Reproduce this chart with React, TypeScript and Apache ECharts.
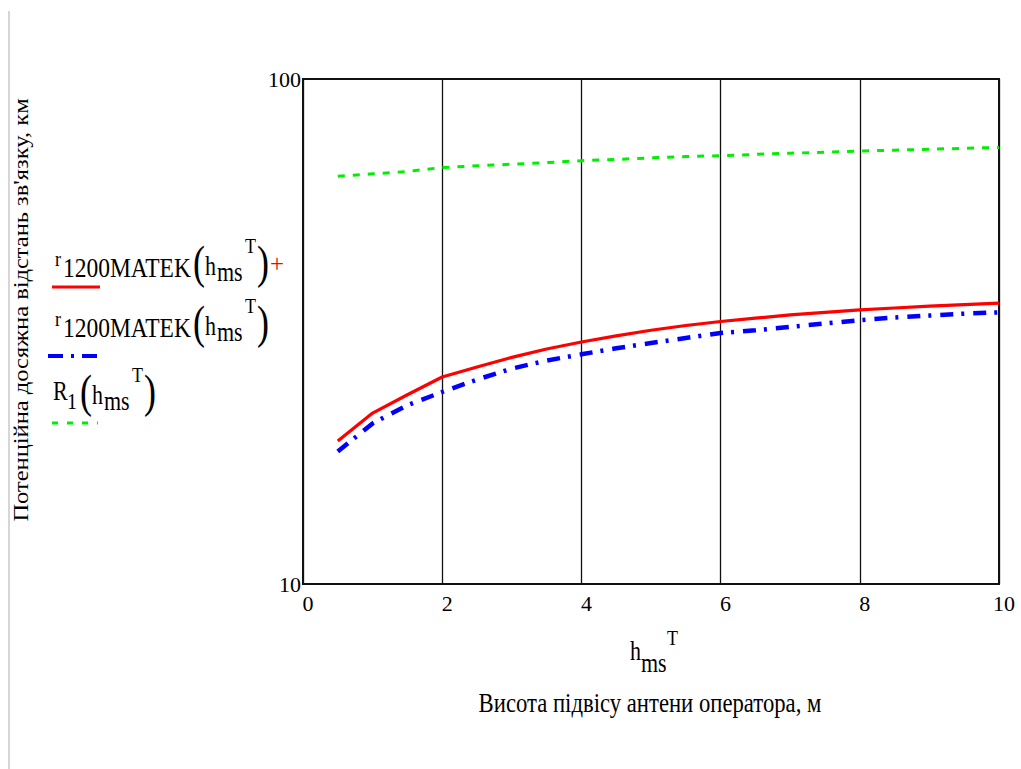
import React, { useEffect, useRef } from "react";
import * as echarts from "echarts";

const heights = [0.5, 1, 1.5, 2, 2.5, 3, 3.5, 4, 4.5, 5, 5.5, 6, 6.5, 7, 7.5, 8, 8.5, 9, 9.5, 10];
const rMatekPlus = [19.2, 21.8, 23.7, 25.7, 26.9, 28.1, 29.2, 30.15, 31.0, 31.8, 32.5, 33.1, 33.6, 34.1, 34.5, 34.9, 35.2, 35.5, 35.75, 36.0];
const rMatek = [18.3, 20.8, 22.6, 24.0, 25.4, 26.7, 27.7, 28.5, 29.3, 30.0, 30.7, 31.4, 31.8, 32.3, 32.8, 33.3, 33.7, 34.0, 34.3, 34.5];
const r1 = [64.2, 64.9, 65.6, 66.8, 67.3, 67.8, 68.3, 68.9, 69.3, 69.8, 70.2, 70.5, 70.9, 71.3, 71.6, 72.0, 72.3, 72.6, 72.9, 73.2];
const xTicks = [0, 2, 4, 6, 8, 10];
const yTicks = [10, 100];

const yTitle = "Потенційна досяжна відстань зв'язку, км";
const xTitle = "Висота підвісу антени оператора, м";

const FONT = "'Liberation Serif', 'Times New Roman', serif";

function txt(text: string, x: number, y: number, size: number, fill = "#000", extra: any = {}) {
  return {
    type: "text",
    x,
    y,
    scaleY: extra.scaleY ?? 1.2,
    scaleX: extra.scaleX ?? 1,
    rotation: extra.rotation ?? 0,
    style: {
      text,
      x: 0,
      y: 0,
      fill,
      font: `${size}px ${FONT}`,
      fontSize: size,
      fontFamily: FONT,
      align: extra.align ?? "left",
      verticalAlign: "middle",
      textAlign: extra.align ?? "left",
      textVerticalAlign: "middle",
    },
    silent: true,
  };
}

function fnLabel(name: string, sub: string, x: number, y: number, plus: boolean, big: boolean) {
  const els: any[] = [];
  if (big) {
    els.push(txt(name, x + 2, y - 4, 18));
    els.push(txt(sub, x + 10, y + 6, 23.5));
  } else {
    els.push(txt(name, x, y, 22));
    els.push(txt(sub, x + 14, y + 10, 20));
  }
  const px = big ? x + 140 : x + 27;
  els.push(txt("(", px, y, 36, "#000", { scaleY: 1.3 }));
  els.push(txt("h", px + 12, y + 4, 22));
  els.push(txt("ms", px + 24, y + 10, 22));
  els.push(txt("T", px + 52, y - 17, 18));
  els.push(txt(")", px + 64, y, 36, "#000", { scaleY: 1.3 }));
  if (plus) els.push(txt("+", px + 77, y + 1, 25, "#ff0000", { scaleY: 1 }));
  return els;
}

export default function App() {
  const ref = useRef<HTMLDivElement>(null);
  useEffect(() => {
    if (!ref.current) return;
    const chart = echarts.init(ref.current, undefined, { renderer: "svg" });
    const mk = (vals: number[]) => heights.map((h, i) => [h, vals[i]]);
    chart.setOption({
      animation: false,
      backgroundColor: "#ffffff",
      grid: {
        left: 303,
        top: 79,
        right: 22,
        bottom: 185,
        show: true,
        borderColor: "#111",
        borderWidth: 2,
        containLabel: false,
      },
      xAxis: {
        type: "value",
        min: 0,
        max: 10,
        interval: 2,
        axisLine: { show: true, lineStyle: { color: "#111", width: 2 } },
        axisTick: { show: false },
        splitLine: { show: true, lineStyle: { color: "#111", width: 1.3 } },
        axisLabel: {
          color: "#000",
          fontFamily: FONT,
          fontSize: 22,
          margin: 8,
          padding: [0, 0, 0, 10],
          formatter: (v: number) => (xTicks.includes(v) ? String(v) : ""),
        },
      },
      yAxis: {
        type: "log",
        logBase: 10,
        min: 10,
        max: 100,
        axisLine: { show: true, lineStyle: { color: "#111", width: 2 } },
        axisTick: { show: false },
        splitLine: { show: false },
        minorTick: { show: false },
        axisLabel: {
          color: "#000",
          fontFamily: FONT,
          fontSize: 22,
          margin: 2,
          padding: [4, 0, 0, 0],
          formatter: (v: number) => (yTicks.includes(Math.round(v)) ? String(Math.round(v)) : ""),
        },
      },
      series: [
        {
          type: "line",
          data: mk(rMatekPlus),
          showSymbol: false,
          symbol: "none",
          lineStyle: { color: "#ff0000", width: 3.2 },
        },
        {
          type: "line",
          data: mk(rMatek),
          showSymbol: false,
          symbol: "none",
          lineStyle: { color: "#0000ff", width: 4.5, type: [13, 8, 3, 9] },
        },
        {
          type: "line",
          data: mk(r1),
          showSymbol: false,
          symbol: "none",
          lineStyle: { color: "#00ee00", width: 3, type: [7, 8] },
        },
      ],
      graphic: [
        { type: "rect", shape: { x: 8, y: 11, width: 2, height: 758 }, style: { fill: "#d6d6d6" }, silent: true },
        txt(yTitle, 21, 310, 24.5, "#000", { rotation: Math.PI / 2, align: "center", scaleY: 0.85 }),
        ...fnLabel("r", "1200MATEK", 53, 262, true, true),
        { type: "line", shape: { x1: 52, y1: 287, x2: 100, y2: 287 }, style: { stroke: "#ff0000", lineWidth: 3 }, silent: true },
        ...fnLabel("r", "1200MATEK", 53, 322, false, true),
        { type: "line", shape: { x1: 48, y1: 356, x2: 98, y2: 356 }, style: { stroke: "#0000ff", lineWidth: 4, lineDash: [15, 8, 3, 8] }, silent: true },
        ...fnLabel("R", "1", 53, 391, false, false),
        { type: "line", shape: { x1: 52, y1: 423, x2: 98, y2: 423 }, style: { stroke: "#00ee00", lineWidth: 3, lineDash: [6, 9] }, silent: true },
        txt("h", 630, 651, 22),
        txt("ms", 641, 663, 22),
        txt("T", 667, 637, 18),
        txt(xTitle, 650, 703, 22.7, "#000", { align: "center" }),
      ],
    });
    return () => chart.dispose();
  }, []);
  return (
    <div
      ref={ref}
      style={{ position: "absolute", left: 0, top: 0, width: 1021, height: 769, background: "#fff" }}
    />
  );
}
